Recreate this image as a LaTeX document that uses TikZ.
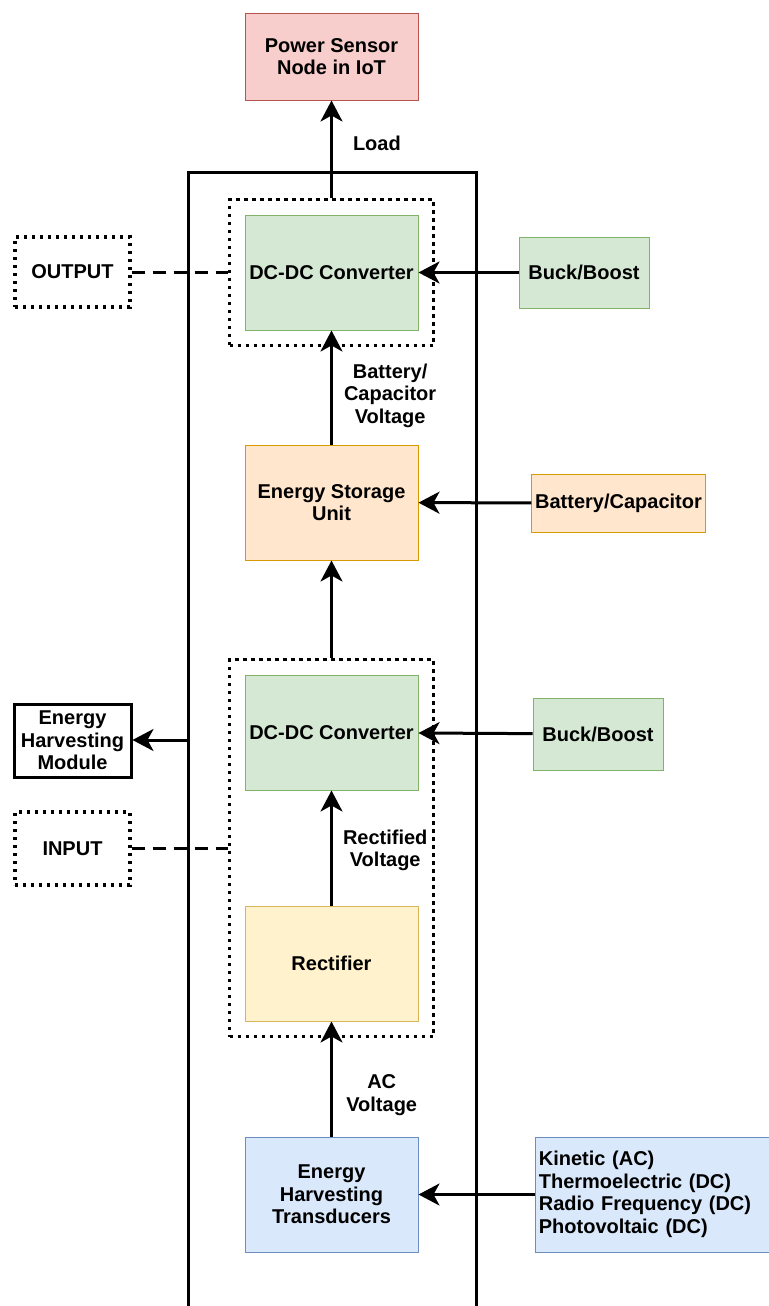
\documentclass[tikz,border=0pt]{standalone}
\usepackage{fontspec}
\setmainfont{Liberation Sans}
\usetikzlibrary{positioning, fit, arrows.meta}

\definecolor{redfill}{HTML}{F8CECC}
\definecolor{redline}{HTML}{B85450}
\definecolor{greenfill}{HTML}{D5E8D4}
\definecolor{greenline}{HTML}{82B366}
\definecolor{orangefill}{HTML}{FFE6CC}
\definecolor{orangeline}{HTML}{D79B00}
\definecolor{yellowfill}{HTML}{FFF2CC}
\definecolor{yellowline}{HTML}{D6B656}
\definecolor{bluefill}{HTML}{DAE8FC}
\definecolor{blueline}{HTML}{6C8EBF}

\begin{document}
\begin{tikzpicture}[x=0.6pt, y=-0.6pt,
        font=\fontsize{12}{13.5}\selectfont\bfseries,
        block/.style={draw, line width=0.6pt, minimum width=103.8pt, minimum height=69pt, align=center, inner sep=2pt},
        dotbox/.style={draw, line width=2pt, dash pattern=on 2pt off 2.8pt, inner sep=9pt, align=center},
        arr/.style={-{Stealth[length=12.6pt, width=13.2pt, inset=3.6pt]}, line width=1.8pt},
        dashline/.style={line width=1.8pt, dash pattern=on 7.8pt off 4.8pt},
        lbl/.style={anchor=west, align=center, inner sep=0pt}]
        \useasboundingbox (0,0) rectangle (769,1306);

        \draw[line width=1.8pt] (188,1320) -- (188,172) -- (476,172) -- (476,1320);
        \coordinate (fl) at (188,740);

        \node[block, fill=redfill, draw=redline, minimum height=52.2pt] (pw) at (331.5,56.5) {Power Sensor\\Node in IoT};
        \node[block, fill=greenfill, draw=greenline] (conv1) at (331.5,272.5) {DC-DC Converter};
        \node[block, fill=orangefill, draw=orangeline] (esu) at (331.5,502.5) {Energy Storage\\Unit};
        \node[block, fill=greenfill, draw=greenline] (conv2) at (331.5,732.5) {DC-DC Converter};
        \node[block, fill=yellowfill, draw=yellowline] (rect) at (331.5,963.5) {Rectifier};
        \node[block, fill=bluefill, draw=blueline] (eht) at (331.5,1194.5) {Energy\\Harvesting\\Transducers};

        \node[dotbox, fit=(conv1)] (dot1) {};
        \node[dotbox, fit=(conv2)(rect)] (dot2) {};

        \node[dotbox, minimum width=69pt, minimum height=42pt] (out) at (72.5,272) {OUTPUT};
        \node[draw, line width=1.8pt, minimum width=70.2pt, minimum height=43.8pt, align=center, inner sep=1pt] (ehm) at (72.5,740.5) {Energy\\Harvesting\\Module};
        \node[dotbox, minimum width=69pt, minimum height=43.8pt] (inp) at (72.5,848.5) {INPUT};

        \node[block, fill=greenfill, draw=greenline, minimum width=78pt, minimum height=42.6pt] (bb1) at (584,272.5) {Buck/Boost};
        \node[block, fill=orangefill, draw=orangeline, minimum height=34.8pt] (bat) at (618.5,503) {Battery/Capacitor};
        \node[block, fill=greenfill, draw=greenline, minimum width=78pt, minimum height=43.2pt] (bb2) at (598,734) {Buck/Boost};
        \node[block, fill=bluefill, draw=blueline, anchor=west, text width=141pt, align=left] (src) at (535,1194.5) {Kinetic (AC)\\Thermoelectric (DC)\\Radio Frequency (DC)\\Photovoltaic (DC)};

        \draw[arr] (dot1) to node[lbl, pos=0.56, xshift=12pt] {Load} (pw);
        \draw[arr] (esu) to node[lbl, pos=0.43, xshift=6.6pt] {Battery/\\Capacitor\\Voltage} (conv1);
        \draw[arr] (dot2) to (esu);
        \draw[arr] (rect) to node[lbl, pos=0.48, xshift=6pt] {Rectified\\Voltage} (conv2);
        \draw[arr] (eht) to node[lbl, pos=0.36, xshift=8pt] {AC\\Voltage} (rect);

        \draw[arr] (bb1) to (conv1);
        \draw[arr] (bat) to (esu);
        \draw[arr] (bb2) to (conv2);
        \draw[arr] (src.west) to (src.west -| eht.east);
        \draw[arr] (fl) to (fl -| ehm.east);

        \draw[dashline] (out) to (out -| dot1.west);
        \draw[dashline] (inp.east) to (inp.east -| dot2.west);
    \end{tikzpicture}
\end{document}
